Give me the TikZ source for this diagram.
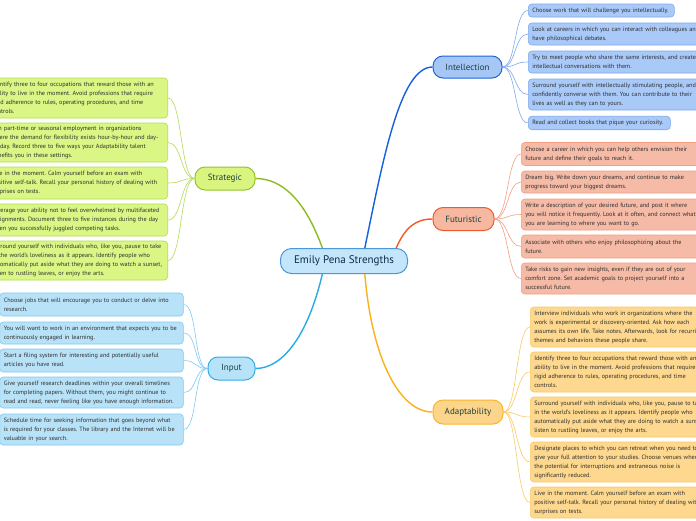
\documentclass[tikz,border=0pt]{standalone}
\usepackage{fontspec}
\setmainfont{PT Sans}
\frenchspacing
\definecolor{leaftext}{HTML}{2E2E2E}
\definecolor{topictext}{HTML}{1B3F3C}
\definecolor{ctrtext}{HTML}{0E2A4A}
\definecolor{ctrfill}{HTML}{C4E6FA}\definecolor{ctrdraw}{HTML}{4A97D9}
\definecolor{ifill}{HTML}{A6C6F6}\definecolor{idraw}{HTML}{1F66D9}\definecolor{iedge}{HTML}{1560DC}
\definecolor{ilfill}{HTML}{A9C9F8}\definecolor{ildraw}{HTML}{7FA9EE}
\definecolor{ffill}{HTML}{F7B8A2}\definecolor{fdraw}{HTML}{ED5A2C}\definecolor{fedge}{HTML}{F15A24}
\definecolor{flfill}{HTML}{F6BBA6}\definecolor{fldraw}{HTML}{F29F83}
\definecolor{afill}{HTML}{FDD58A}\definecolor{adraw}{HTML}{F8B62A}\definecolor{aedge}{HTML}{FBB21A}
\definecolor{alfill}{HTML}{FDD88E}\definecolor{aldraw}{HTML}{F9CB68}
\definecolor{sfill}{HTML}{D9F57F}\definecolor{sdraw}{HTML}{93C42C}\definecolor{sedge}{HTML}{8CBD1F}
\definecolor{slfill}{HTML}{DAF685}\definecolor{sldraw}{HTML}{B2DD4E}
\definecolor{nfill}{HTML}{B7E3F8}\definecolor{ndraw}{HTML}{34ABE6}\definecolor{nedge}{HTML}{29AAE8}
\definecolor{nlfill}{HTML}{B8E2F8}\definecolor{nldraw}{HTML}{7DCBF1}
\tikzset{
  leaf/.style={draw, rounded corners=3.5pt, line width=0.6pt, align=left, inner xsep=4pt, inner ysep=0pt,
     font=\fontsize{6.2}{9}\selectfont, text=leaftext},
  topic/.style={draw, rounded corners=10pt, line width=1pt, minimum height=23pt, inner sep=0pt,
     font=\fontsize{9}{11}\selectfont, text=topictext},
  ileaf/.style={leaf, fill=ilfill, draw=ildraw, anchor=west},
  fleaf/.style={leaf, fill=flfill, draw=fldraw, anchor=west, text width=180pt},
  aleaf/.style={leaf, fill=alfill, draw=aldraw, anchor=west, text width=180pt, minimum height=40pt},
  sleaf/.style={leaf, fill=slfill, draw=sldraw, anchor=east, text width=172pt},
  nleaf/.style={leaf, fill=nlfill, draw=nldraw, anchor=west, text width=175.5pt},
  mainedge/.style={line width=1.4pt},
  thin/.style={line width=0.6pt}
}
\begin{document}
\begin{tikzpicture}[x=1pt,y=-1pt]
\path[use as bounding box] (0,0) rectangle (696,520);
\clip (0,0) rectangle (696,520);
\fill[white] (0,0) rectangle (696,520);

% central and topics
\node[draw=ctrdraw, fill=ctrfill, line width=1pt, rounded corners=11pt, minimum width=127pt, minimum height=25pt,
      inner sep=0pt, font=\fontsize{11}{13}\selectfont, text=ctrtext] (ctr) at (344,261) {Emily Pena Strengths};
\node[topic, fill=ifill, draw=idraw, minimum width=69pt, minimum height=22pt] (intel) at (467.5,67) {Intellection};
\node[topic, fill=ffill, draw=fdraw, minimum width=61pt] (futur) at (463.5,219) {Futuristic};
\node[topic, fill=afill, draw=adraw, minimum width=70pt, minimum height=24pt] (adapt) at (468,412) {Adaptability};
\node[topic, fill=sfill, draw=sdraw, minimum width=60pt] (strat) at (225,178.5) {Strategic};
\node[topic, fill=nfill, draw=ndraw, minimum width=47pt] (input) at (231.5,368.5) {Input};

% main connectors
\draw[mainedge, iedge] (ctr.32) .. controls (383,160) and (400,67) .. (intel.west);
\draw[mainedge, fedge] (ctr.14) .. controls (405,228) and (415,219) .. (futur.west);
\draw[mainedge, aedge] (ctr.328) .. controls (372,360) and (400,412) .. (adapt.west);
\draw[mainedge, sedge] (ctr.149) .. controls (305,200) and (282,178.5) .. (strat.east);
\draw[mainedge, nedge] (ctr.211) .. controls (308,335) and (283,368.5) .. (input.east);

% Intellection leaves
\node[ileaf, text width=138pt, minimum height=13pt] (i1) at (528,10.5) {Choose work that will challenge you intellectually.};
\node[ileaf, text width=180pt, minimum height=22pt] (i2) at (528,34) {Look at careers in which you can interact with colleagues and\\have philosophical debates.};
\node[ileaf, text width=180pt, minimum height=22pt] (i3) at (528,62) {Try to meet people who share the same interests, and create\\intellectual conversations with them.};
\node[ileaf, text width=180pt, minimum height=31pt] (i4) at (528,94.5) {Surround yourself with intellectually stimulating people, and\\confidently converse with them. You can contribute to their\\lives as well as they can to yours.};
\node[ileaf, text width=134pt, minimum height=13.5pt] (i5) at (528,123) {Read and collect books that pique your curiosity.};
\foreach \n in {i1,i2,i3,i4,i5}
  \draw[thin, ildraw] (intel.east) .. controls +(14,0) and +(-14,0) .. (\n.west);

% Futuristic leaves
\node[fleaf, minimum height=23pt] (f1) at (521,154) {Choose a career in which you can help others envision their\\future and define their goals to reach it.};
\node[fleaf, minimum height=22pt] (f2) at (521,182) {Dream big. Write down your dreams, and continue to make\\progress toward your biggest dreams.};
\node[fleaf, minimum height=31pt] (f3) at (521,214.5) {Write a description of your desired future, and post it where\\you will notice it frequently. Look at it often, and connect what\\you are learning to where you want to go.};
\node[fleaf, minimum height=23pt] (f4) at (521,246.5) {Associate with others who enjoy philosophizing about the\\future.};
\node[fleaf, minimum height=31pt] (f5) at (521,278.5) {Take risks to gain new insights, even if they are out of your\\comfort zone. Set academic goals to project yourself into a\\successful future.};
\foreach \n in {f1,f2,f3,f4,f5}
  \draw[thin, fldraw] (futur.east) .. controls +(14,0) and +(-14,0) .. (\n.west);

% Adaptability leaves
\node[aleaf] (a1) at (530,327) {Interview individuals who work in organizations where the\\work is experimental or discovery-oriented. Ask how each\\assumes its own life. Take notes. Afterwards, look for recurring\\themes and behaviors these people share.};
\node[aleaf] (a2) at (530,372) {Identify three to four occupations that reward those with an\\ability to live in the moment. Avoid professions that require\\rigid adherence to rules, operating procedures, and time\\controls.};
\node[aleaf] (a3) at (530,417) {Surround yourself with individuals who, like you, pause to take\\in the world's loveliness as it appears. Identify people who\\automatically put aside what they are doing to watch a sunset,\\listen to rustling leaves, or enjoy the arts.};
\node[aleaf] (a4) at (530,462) {Designate places to which you can retreat when you need to\\give your full attention to your studies. Choose venues where\\the potential for interruptions and extraneous noise is\\significantly reduced.};
\node[aleaf, minimum height=31pt] (a5) at (530,502.5) {Live in the moment. Calm yourself before an exam with\\positive self-talk. Recall your personal history of dealing with\\surprises on tests.};
\foreach \n in {a1,a2,a3,a4,a5}
  \draw[thin, aldraw] (adapt.east) .. controls +(14,0) and +(-14,0) .. (\n.west);

% Strategic leaves
\node[sleaf, minimum height=40pt] (s1) at (168,98) {Identify three to four occupations that reward those with an\\ability to live in the moment. Avoid professions that require\\rigid adherence to rules, operating procedures, and time\\controls.};
\node[sleaf, minimum height=39pt] (s2) at (168,142.5) {Join part-time or seasonal employment in organizations\\where the demand for flexibility exists hour-by-hour and day-\\by-day. Record three to five ways your Adaptability talent\\benefits you in these settings.};
\node[sleaf, minimum height=32pt] (s3) at (168,183) {Live in the moment. Calm yourself before an exam with\\positive self-talk. Recall your personal history of dealing with\\surprises on tests.};
\node[sleaf, minimum height=32pt] (s4) at (168,220) {Leverage your ability not to feel overwhelmed by multifaceted\\assignments. Document three to five instances during the day\\when you successfully juggled competing tasks.};
\node[sleaf, minimum height=39pt] (s5) at (168,260.5) {Surround yourself with individuals who, like you, pause to take\\in the world's loveliness as it appears. Identify people who\\automatically put aside what they are doing to watch a sunset,\\listen to rustling leaves, or enjoy the arts.};
\foreach \n in {s1,s2,s3,s4,s5}
  \draw[thin, sldraw] (strat.west) .. controls +(-14,0) and +(14,0) .. (\n.east);

% Input leaves
\node[nleaf, minimum height=23pt] (n1) at (-0.5,304.5) {Choose jobs that will encourage you to conduct or delve into\\research.};
\node[nleaf, minimum height=22pt] (n2) at (-0.5,333) {You will want to work in an environment that expects you to be\\continuously engaged in learning.};
\node[nleaf, minimum height=23pt] (n3) at (-0.5,360.5) {Start a filing system for interesting and potentially useful\\articles you have read.};
\node[nleaf, minimum height=31pt] (n4) at (-0.5,392.5) {Give yourself research deadlines within your overall timelines\\for completing papers. Without them, you might continue to\\read and read, never feeling like you have enough information.};
\node[nleaf, minimum height=31pt] (n5) at (-0.5,429.5) {Schedule time for seeking information that goes beyond what\\is required for your classes. The library and the Internet will be\\valuable in your search.};
\foreach \n in {n1,n2,n3,n4,n5}
  \draw[thin, nldraw] (input.west) .. controls +(-14,0) and +(14,0) .. (\n.east);
\end{tikzpicture}
\end{document}
